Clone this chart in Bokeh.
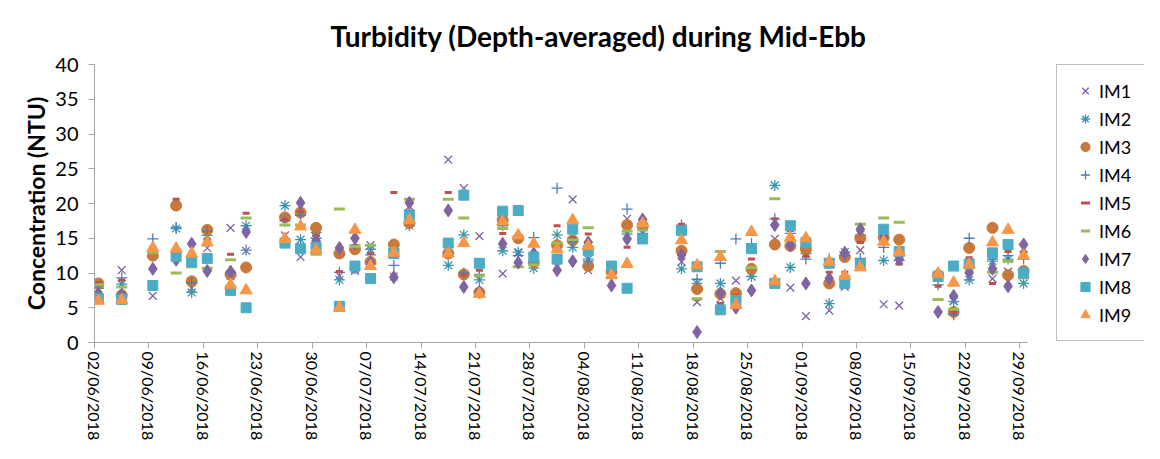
import pandas as pd
from bokeh.plotting import figure
from bokeh.models import Range1d, FixedTicker, DatetimeTickFormatter, Legend, LegendItem
from bokeh.embed import file_html
from bokeh.resources import INLINE

dates = ["2018-06-02", "2018-06-05", "2018-06-09", "2018-06-12", "2018-06-14", "2018-06-16", "2018-06-19", "2018-06-21",
         "2018-06-26", "2018-06-28", "2018-06-30", "2018-07-03", "2018-07-05", "2018-07-07", "2018-07-10", "2018-07-12",
         "2018-07-17", "2018-07-19", "2018-07-21", "2018-07-24", "2018-07-26", "2018-07-28", "2018-07-31", "2018-08-02",
         "2018-08-04", "2018-08-07", "2018-08-09", "2018-08-11", "2018-08-16", "2018-08-18", "2018-08-21", "2018-08-23",
         "2018-08-25", "2018-08-28", "2018-08-30", "2018-09-01", "2018-09-04", "2018-09-06", "2018-09-08", "2018-09-11",
         "2018-09-13", "2018-09-18", "2018-09-20", "2018-09-22", "2018-09-25", "2018-09-27", "2018-09-29"]

im1 = [6.5, 10.4, 6.7, 13.0, 7.8, 13.6, 16.5, 13.2, 15.4, 12.3, 15.2, 9.6, 10.3, 14.0, 9.5, 19.6,
       26.3, 22.2, 15.3, 9.9, 12.9, 11.8, 10.9, 20.6, 10.4, 10.5, 17.8, 17.3, 11.6, 5.8, 6.3, 8.9,
       9.5, 14.9, 7.9, 3.8, 4.6, 8.0, 13.3, 5.5, 5.3, 9.4, 6.0, 9.4, 9.2, 10.2, 13.5]
im2 = [7.8, 8.4, 13.0, 16.4, 7.2, 15.4, 9.6, 16.8, 19.7, 14.8, 15.8, 9.0, 10.6, 13.4, 13.0, 16.8,
       11.1, 15.5, 9.0, 13.2, 13.0, 10.7, 15.5, 13.7, 12.0, 10.4, 15.6, 15.7, 10.6, 8.5, 8.5, 5.9,
       9.5, 22.6, 10.8, 12.8, 5.6, 13.0, 15.5, 11.8, 11.8, 9.6, 5.9, 9.0, 11.7, 12.0, 8.5]
im3 = [8.5, 6.8, 12.5, 19.7, 8.8, 16.2, 9.8, 10.8, 18.0, 18.7, 16.5, 12.8, 13.4, 11.6, 14.1, 17.2,
       12.8, 9.8, 7.2, 17.6, 15.0, 11.5, 14.0, 14.7, 11.0, 10.2, 16.9, 16.8, 13.2, 7.7, 7.0, 7.1,
       10.6, 14.1, 13.9, 13.4, 8.5, 12.3, 15.0, 15.1, 14.8, 9.7, 4.4, 13.6, 16.5, 9.7, 10.3]
im4 = [8.0, 9.3, 14.9, 16.6, 8.6, 16.0, 10.0, 13.3, 17.5, 18.3, 15.0, 10.1, 14.0, 12.6, 11.1, 19.0,
       13.0, 10.0, 9.8, 16.8, 12.5, 15.1, 22.2, 14.5, 11.7, 10.8, 19.2, 16.5, 16.9, 9.1, 11.4, 14.9,
       14.2, 17.8, 15.7, 12.0, 12.0, 12.5, 12.1, 13.7, 12.5, 8.3, 4.0, 15.0, 12.0, 12.5, 12.0]
im5 = [8.6, 9.0, 13.7, 20.6, 12.6, 14.8, 12.7, 18.6, 17.7, 18.8, 15.4, 10.2, 13.9, 12.8, 21.6, 20.4,
       21.6, 9.7, 10.4, 15.7, 15.3, 11.3, 16.8, 15.0, 15.6, 10.3, 13.7, 16.4, 17.0, 6.2, 5.6, 6.8,
       12.0, 17.8, 16.1, 12.4, 10.1, 10.1, 14.4, 15.0, 11.3, 8.1, 4.3, 12.2, 8.5, 13.1, 13.0]
im6 = [8.3, 8.0, 12.9, 10.0, 10.9, 10.7, 11.9, 17.9, 16.9, 16.9, 12.7, 19.2, 13.8, 14.0, 13.5, 20.6,
       20.6, 17.9, 9.6, 16.4, 10.9, 11.2, 14.3, 14.8, 16.5, 9.3, 16.0, 16.2, 16.6, 6.3, 13.1, 6.6,
       10.8, 20.7, 14.3, 14.0, 11.2, 9.5, 17.0, 17.9, 17.3, 6.2, 4.8, 10.9, 10.1, 11.7, 9.3]
im7 = [7.0, 6.9, 10.6, 11.9, 14.2, 10.3, 10.2, 15.9, 14.6, 20.1, 14.6, 13.6, 15.0, 11.4, 9.4, 20.1,
       19.0, 8.0, 7.3, 14.2, 11.5, 12.8, 10.4, 11.7, 14.4, 8.2, 14.9, 17.7, 12.6, 1.5, 7.1, 5.0,
       7.5, 16.9, 14.0, 8.5, 9.2, 12.9, 16.3, 15.5, 12.0, 4.4, 6.7, 10.1, 10.6, 8.1, 14.1]
im8 = [6.3, 6.2, 8.2, 12.4, 11.6, 12.1, 7.5, 5.0, 14.3, 13.5, 13.7, 5.2, 11.0, 9.2, 12.8, 18.2,
       14.3, 21.2, 11.4, 18.9, 19.0, 12.3, 12.0, 16.3, 13.2, 11.0, 7.8, 14.9, 16.1, 10.9, 4.7, 5.9,
       13.5, 8.5, 16.8, 14.4, 11.4, 8.5, 11.3, 16.3, 13.1, 9.5, 11.0, 11.3, 12.9, 14.1, 10.0]
im9 = [6.0, 6.1, 13.6, 13.5, 12.8, 14.4, 8.3, 7.5, 14.9, 16.7, 13.3, 5.0, 16.2, 11.0, 12.9, 17.6,
       12.8, 14.3, 7.0, 17.4, 15.4, 14.2, 13.4, 17.6, 13.9, 9.7, 11.3, 17.1, 14.7, 11.1, 12.3, 5.4,
       15.9, 8.8, 15.1, 15.0, 11.6, 9.6, 10.8, 14.5, 13.0, 9.9, 8.6, 11.2, 14.4, 16.2, 12.5]

series_names = ["IM1", "IM2", "IM3", "IM4", "IM5", "IM6", "IM7", "IM8", "IM9"]
series_values = [im1, im2, im3, im4, im5, im6, im7, im8, im9]
y_ticks = [0, 5, 10, 15, 20, 25, 30, 35, 40]

FONT = "Lato"

# Excel date axis: each point sits in the middle of its day
x = pd.to_datetime(dates) + pd.Timedelta(hours=12)
axis_start = pd.Timestamp("2018-06-02")
axis_end = pd.Timestamp("2018-09-30")
week_ticks = pd.date_range("2018-06-02", "2018-09-29", freq="7D")

# the plot frame is stretched to the right edge so the legend can sit inside it;
# the date axis itself stops at 30/09 (933 px for the 120 days, frame is 1050 px)
FRAME_W, AXIS_W = 1050, 933
view_end = axis_start + (axis_end - axis_start) * (FRAME_W / AXIS_W)

p = figure(width=1144, height=443, x_axis_type="datetime",
           x_range=Range1d(axis_start, view_end),
           y_range=Range1d(0, 40),
           output_backend="svg", toolbar_location=None,
           min_border_left=94, min_border_right=0, min_border_top=64, min_border_bottom=99,
           title="Turbidity (Depth-averaged) during Mid-Ebb")

p.title.text_font = FONT
p.title.text_font_size = "28px"
p.title.text_font_style = "bold"
p.title.text_color = "#000000"
p.title.align = "left"
p.title.offset = 236
p.title.standoff = 24

p.outline_line_color = None
p.xgrid.visible = False
p.ygrid.visible = False
p.background_fill_color = "white"
p.border_fill_color = "white"

xa = p.xaxis[0]
xa.ticker = FixedTicker(ticks=[t.value / 1e6 for t in week_ticks])
xa.bounds = (axis_start.value / 1e6, axis_end.value / 1e6)
fmt = "%d/%m/%Y"
xa.formatter = DatetimeTickFormatter(microseconds=fmt, milliseconds=fmt, seconds=fmt, minsec=fmt,
                                     minutes=fmt, hourmin=fmt, hours=fmt, days=fmt, months=fmt, years=fmt)
xa.major_label_orientation = "vertical"
xa.minor_tick_line_color = None
xa.axis_line_color = "#A6A6A6"
xa.major_tick_line_color = "#A6A6A6"
xa.major_tick_out = 6
xa.major_tick_in = 0
xa.major_label_text_font = FONT
xa.major_label_text_font_size = "16px"
xa.major_label_text_color = "#000000"
xa.major_label_standoff = 3

ya = p.yaxis[0]
ya.ticker = FixedTicker(ticks=y_ticks)
ya.minor_tick_line_color = None
ya.axis_line_color = "#A6A6A6"
ya.major_tick_line_color = "#A6A6A6"
ya.major_tick_out = 6
ya.major_tick_in = 0
ya.major_label_text_font = FONT
ya.major_label_text_font_size = "20px"
ya.major_label_text_color = "#000000"
ya.major_label_standoff = 10
ya.axis_label = "Concentration (NTU)"
ya.axis_label_text_font = FONT
ya.axis_label_text_font_size = "23px"
ya.axis_label_text_font_style = "bold"
ya.axis_label_text_color = "#000000"
ya.axis_label_standoff = 2

styles = [
    dict(marker="x", size=11, line_color="#7E62A3", line_width=1.3, fill_color=None),
    dict(marker="asterisk", size=11, line_color="#3A95AE", line_width=1.3, fill_color=None),
    dict(marker="circle", size=11, line_color="#C8783A", fill_color="#C8783A"),
    dict(marker="cross", size=11, line_color="#4A7EBB", line_width=1.3, fill_color=None),
    dict(marker="dash", size=7, line_color="#C0504D", line_width=3, fill_color=None),
    dict(marker="dash", size=11, line_color="#9BBB59", line_width=3, fill_color=None),
    dict(marker="diamond", size=13, line_color="#8064A2", fill_color="#8064A2"),
    dict(marker="square", size=10, line_color="#4BACC6", fill_color="#4BACC6"),
    dict(marker="triangle", size=12, line_color="#F79646", fill_color="#F79646"),
]

items = []
for name, vals, st in zip(series_names, series_values, styles):
    r = p.scatter(x=x, y=vals, **st)
    items.append(LegendItem(label=name, renderers=[r]))

legend = Legend(items=items, location=(962, 1))
legend.border_line_color = "#7F7F7F"
legend.border_line_width = 1
legend.background_fill_color = "white"
legend.background_fill_alpha = 1
legend.label_text_font = FONT
legend.label_text_font_size = "18px"
legend.label_text_color = "#000000"
legend.glyph_width = 28
legend.glyph_height = 23
legend.label_height = 23
legend.spacing = 5
legend.padding = 14
legend.label_standoff = 0
legend.margin = 0
p.add_layout(legend)

open("out.html", "w").write(file_html(p, INLINE))
